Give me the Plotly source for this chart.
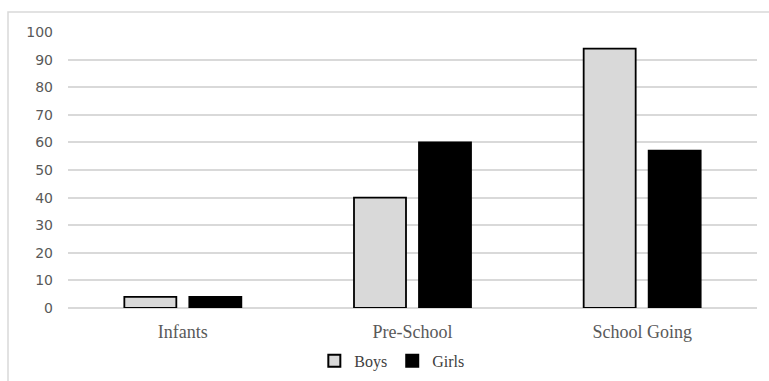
import plotly.graph_objects as go

categories = ["Infants", "Pre-School", "School Going"]
boys = [4, 40, 94]
girls = [4, 60, 57]
y_ticks = [0, 10, 20, 30, 40, 50, 60, 70, 80, 90, 100]

W, H = 769, 381
ml, mr, mt, mb = 68, 12, 32, 73
pw, ph = W - ml - mr, H - mt - mb

fig = go.Figure()
fig.add_trace(go.Bar(
    name="Boys", x=categories, y=boys,
    marker=dict(color="#D9D9D9", line=dict(color="#000000", width=1.8)),
))
fig.add_trace(go.Bar(
    name="Girls", x=categories, y=girls,
    marker=dict(color="#000000", line=dict(color="#000000", width=1.8)),
))

# light frame around the chart area (left and top edges visible)
fig.add_shape(
    type="rect", xref="paper", yref="paper",
    x0=(8 - ml) / pw, x1=(W + 10 - ml) / pw,
    y0=-(H + 10 - mt - ph) / ph, y1=(H - 12 - mb) / ph,
    line=dict(color="#D9D9D9", width=1.5), fillcolor="rgba(0,0,0,0)",
    layer="below",
)

fig.update_layout(
    width=W, height=H,
    margin=dict(l=ml, r=mr, t=mt, b=mb, autoexpand=False),
    paper_bgcolor="white", plot_bgcolor="white",
    barmode="group", bargap=0.434, bargroupgap=0.2,
    showlegend=True,
    legend=dict(
        orientation="h", x=0.47, xanchor="center", y=-0.13, yanchor="top",
        font=dict(family="Liberation Serif", size=16, color="#404040"),
        itemwidth=30, traceorder="normal", itemsizing="constant",
    ),
    xaxis=dict(
        showgrid=False, showline=False, ticks="",
        tickfont=dict(family="Liberation Serif", size=18, color="#595959"),
    ),
    yaxis=dict(
        range=[0, 100], tickvals=y_ticks, showgrid=True,
        gridcolor="#D9D9D9", gridwidth=1.5, zeroline=True,
        zerolinecolor="#D9D9D9", zerolinewidth=1.5, showline=False,
        ticks="", ticklen=0,
        tickfont=dict(family="DejaVu Sans", size=14, color="#595959"),
    ),
)
fig.update_yaxes(ticklabelstandoff=14)
fig.update_xaxes(ticklabelstandoff=11)

fig.write_html("out.html")
